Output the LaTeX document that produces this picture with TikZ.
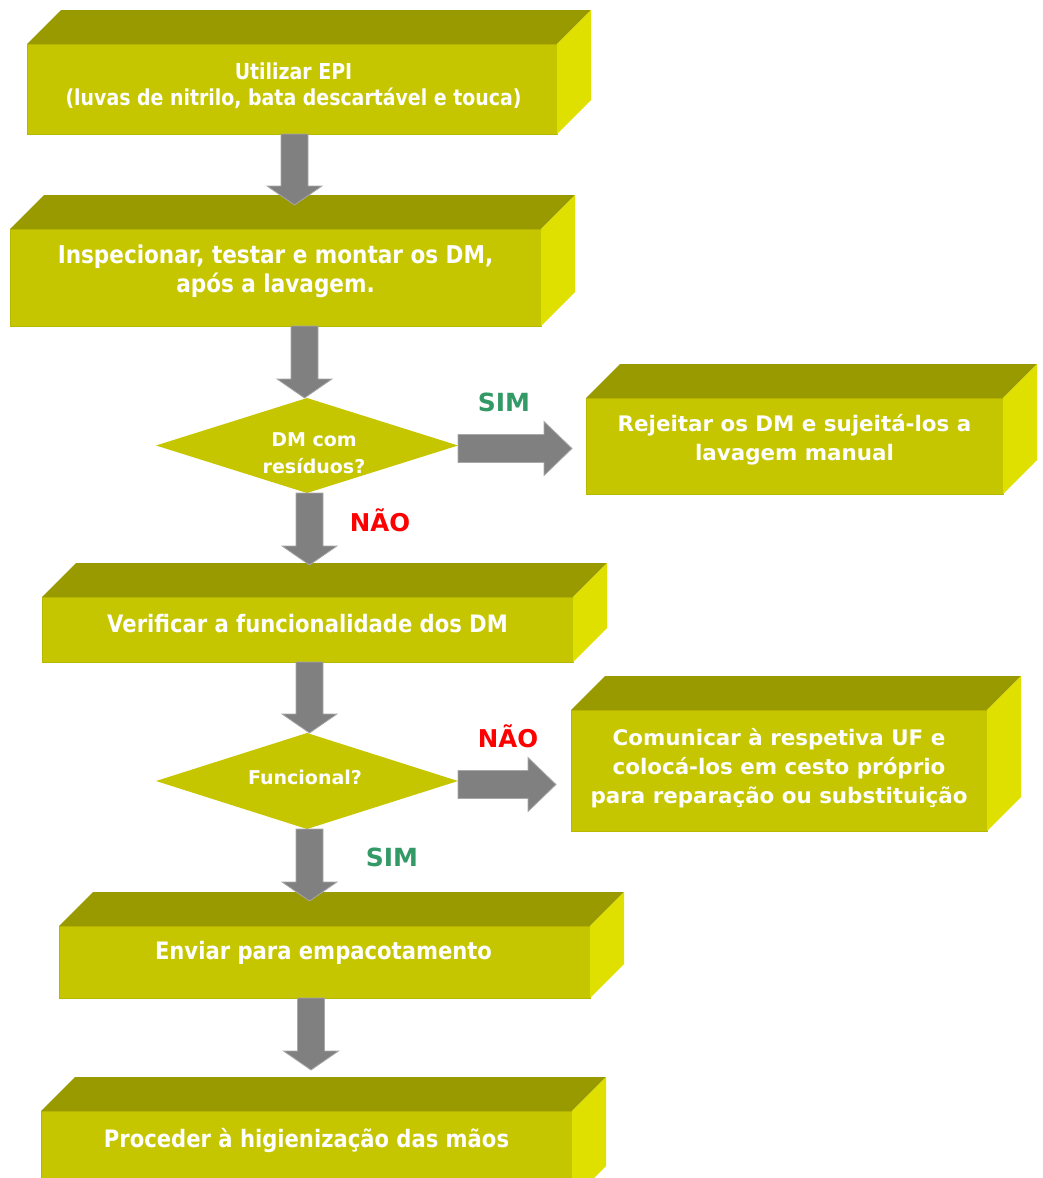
\documentclass[tikz,border=0pt]{standalone}
\usepackage{fontspec}
\setmainfont{DejaVu Sans}
\newfontfamily\narrowfont{DejaVu Sans}[FakeStretch=0.88]
\newfontfamily\narrowerfont{DejaVu Sans}[FakeStretch=0.86]
\usetikzlibrary{calc,shapes.geometric}

\definecolor{frontc}{RGB}{198,198,0}
\definecolor{topc}{RGB}{153,153,0}
\definecolor{sidec}{RGB}{224,224,0}
\definecolor{arrowc}{RGB}{128,128,128}
\definecolor{arrowedge}{RGB}{168,168,168}
\definecolor{yesc}{RGB}{51,153,102}
\definecolor{noc}{RGB}{255,0,0}

\tikzset{
  frontface/.style={rectangle, fill=frontc, draw=frontc!93!black, line width=0.5pt,
    inner sep=0pt, outer sep=0pt, anchor=north west},
  topface/.style={fill=topc},
  sideface/.style={fill=sidec},
  decision/.style={diamond, fill=frontc, inner sep=0pt, outer sep=0pt},
  steptext/.style={text=white, align=center, inner sep=0pt,
    font=\narrowfont\bfseries\fontsize{24}{29}\selectfont},
  steptextsmall/.style={steptext, font=\narrowerfont\bfseries\fontsize{22}{26}\selectfont},
  steptextlarge/.style={steptext, font=\narrowfont\bfseries\fontsize{24.5}{29}\selectfont},
  widetext/.style={text=white, align=center, inner sep=0pt,
    font=\bfseries\fontsize{21.4}{28.8}\selectfont},
  decisiontext/.style={text=white, align=center, inner sep=0pt,
    font=\bfseries\fontsize{19}{27}\selectfont},
  yeslabel/.style={text=yesc, inner sep=0pt, font=\bfseries\fontsize{25}{28}\selectfont},
  nolabel/.style={text=noc, inner sep=0pt, font=\bfseries\fontsize{24.5}{28}\selectfont},
  blockarrow/.style={fill=arrowc, draw=arrowedge, line width=0.8pt, line join=miter},
}

% 3D box: front face node plus top and right faces (depth 34)
\newcommand\cuboid[5]{%
  \node[frontface, minimum width={#4-#2}, minimum height={#5-#3}] (#1) at (#2,#3) {};
  \fill[topface] (#1.north west) -- ++(34,-34) -- ([shift={(34,-34)}]#1.north east)
    -- (#1.north east) -- cycle;
  \fill[sideface] (#1.north east) -- ++(34,-34) -- ([shift={(34,-34)}]#1.south east)
    -- (#1.south east) -- cycle;
}

% block arrow pointing down: x taken from the start, tip at the y of the end
\newcommand\downblock[2]{%
  \draw[blockarrow] let \p1=#1, \p2=#2 in
    (\x1-13.5pt,\y1) -- (\x1+13.5pt,\y1) -- (\x1+13.5pt,\y2+19pt)
    -- (\x1+27.5pt,\y2+19pt) -- (\x1,\y2) -- (\x1-27.5pt,\y2+19pt)
    -- (\x1-13.5pt,\y2+19pt) -- cycle;
}

% block arrow pointing right: y taken from the start, tip at the x of the end
\newcommand\rightblock[2]{%
  \draw[blockarrow] let \p1=#1, \p2=#2 in
    (\x1,\y1+14pt) -- (\x2-28pt,\y1+14pt) -- (\x2-28pt,\y1+27pt)
    -- (\x2,\y1) -- (\x2-28pt,\y1-27pt) -- (\x2-28pt,\y1-14pt)
    -- (\x1,\y1-14pt) -- cycle;
}

\begin{document}
\begin{tikzpicture}[x=1pt,y=-1pt]
\path[use as bounding box] (0,0) rectangle (1042,1178);
\clip (0,0) rectangle (1042,1178);

% process boxes
\cuboid{b1}{27}{44}{557}{134}
\cuboid{b2}{10}{229}{541}{326}
\cuboid{r1}{586}{398}{1003}{494}
\cuboid{b3}{42}{597}{573}{662}
\cuboid{r2}{571}{710}{987}{831}
\cuboid{b4}{59}{926}{590}{998}
\cuboid{b5}{41}{1111}{572}{1200}

% decisions
\node[decision, minimum width=302pt, minimum height=95pt] (d1) at (307,445.5) {};
\node[decision, minimum width=302pt, minimum height=96pt] (d2) at (307,781) {};

% arrow end points
\coordinate (b1out) at (294.5,134);
\coordinate (b2in)  at (294.5,205);
\coordinate (b2out) at (304.5,326);
\coordinate (d1out) at (309.5,493);
\coordinate (b3in)  at (309.5,565);
\coordinate (b3out) at (309.5,662);
\coordinate (d2out) at (309.5,829);
\coordinate (b4in)  at (309.5,901);
\coordinate (b4out) at (311,998);
\coordinate (b5in)  at (311,1070);
\coordinate (d1yes) at (458,448.5);
\coordinate (r1in)  at (572,448.5);
\coordinate (d2no)  at (458,784.5);
\coordinate (r2in)  at (556,784.5);

% connectors
\downblock{(b1out)}{(b2in)}
\downblock{(b2out)}{(d1.north)}
\downblock{(d1out)}{(b3in)}
\downblock{(b3out)}{(d2.north)}
\downblock{(d2out)}{(b4in)}
\downblock{(b4out)}{(b5in)}
\rightblock{(d1yes)}{(r1in)}
\rightblock{(d2no)}{(r2in)}

% texts
\node[steptextsmall] (t1) at (293.5,86) {Utilizar EPI\\(luvas de nitrilo, bata descartável e touca)};
\node[steptextlarge] (t2) at (275.5,271) {Inspecionar, testar e montar os DM,\\após a lavagem.};
\node[widetext] (tr1) at (794.5,440) {Rejeitar os DM e sujeitá-los a\\lavagem manual};
\node[steptext] (t3) at (307.5,624) {Verificar a funcionalidade dos DM};
\node[widetext] (tr2) at (779,768) {Comunicar à respetiva UF e\\colocá-los em cesto próprio\\para reparação ou substituição};
\node[steptext] (t4) at (323.5,953) {Enviar para empacotamento};
\node[steptext] (t5) at (306.5,1140) {Proceder à higienização das mãos};
\node[decisiontext] (td1) at (314,453) {DM com\\resíduos?};
\node[decisiontext] (td2) at (305,777) {Funcional?};

% branch labels
\node[yeslabel] (l1) at (504,402) {SIM};
\node[nolabel]  (l2) at (380,520) {NÃO};
\node[nolabel]  (l3) at (508,736) {NÃO};
\node[yeslabel] (l4) at (392,857) {SIM};
\end{tikzpicture}
\end{document}
